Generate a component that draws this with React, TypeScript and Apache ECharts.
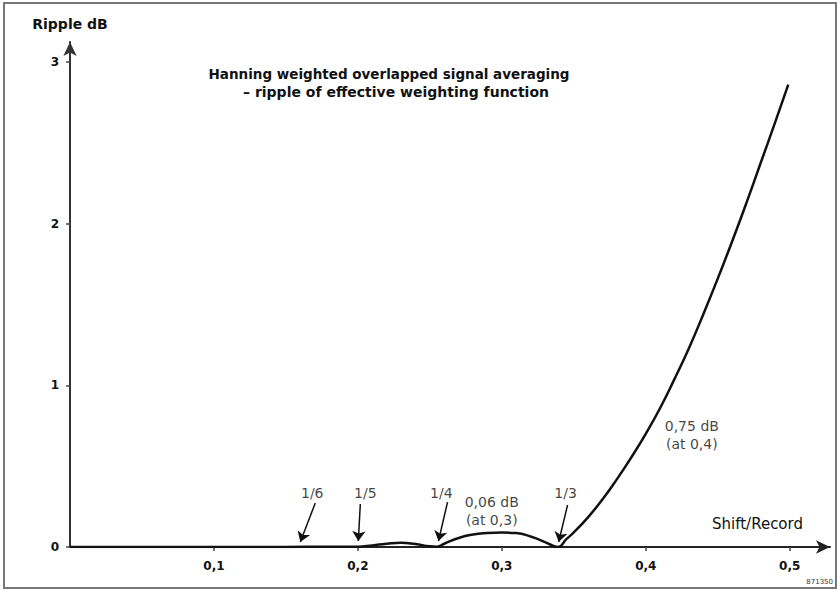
import React, { useEffect, useRef } from "react";
import * as echarts from "echarts";

// Shift / record length (x) and ripple in dB (y)
const shiftRecord = [
  0, 0.05, 0.1, 0.15, 0.18, 0.2, 0.21, 0.22, 0.23, 0.24, 0.25, 0.255, 0.26,
  0.27, 0.28, 0.29, 0.3, 0.31, 0.32, 0.33, 0.335, 0.339, 0.345, 0.35, 0.36,
  0.37, 0.38, 0.39, 0.4, 0.41, 0.42, 0.43, 0.44, 0.45, 0.46, 0.47, 0.48, 0.49,
  0.499,
];
const rippleDb = [
  0, 0, 0, 0, 0.002, 0.002, 0.01, 0.02, 0.026, 0.018, 0.004, 0.002, 0.02,
  0.056, 0.077, 0.086, 0.089, 0.086, 0.065, 0.03, 0.01, 0, 0.05, 0.09, 0.185,
  0.295, 0.42, 0.555, 0.7, 0.86, 1.04, 1.23, 1.44, 1.66, 1.89, 2.13, 2.38,
  2.63, 2.86,
];

const xTickValues = [0.1, 0.2, 0.3, 0.4, 0.5];
const yTickValues = [0, 1, 2, 3];

// Fraction annotations: label, label position, arrow tail, arrow tip (data units)
const fractionLabels = ["1/6", "1/5", "1/4", "1/3"];
const fractionLabelPos = [
  [0.1683, 0.334],
  [0.2052, 0.334],
  [0.258, 0.334],
  [0.3443, 0.334],
];
const fractionArrowTail = [
  [0.1704, 0.272],
  [0.2017, 0.266],
  [0.2623, 0.278],
  [0.3457, 0.26],
];
const fractionArrowTip = [
  [0.16, 0.031],
  [0.2003, 0.037],
  [0.256, 0.037],
  [0.3395, 0.031],
];

const noteLabels = ["0,06 dB\n(at 0,3)", "0,75 dB\n(at 0,4)"];
const notePos = [
  [0.293, 0.22],
  [0.432, 0.69],
];

const titleLines = [
  "Hanning weighted overlapped signal averaging",
  "– ripple of effective weighting function",
];

const FONT = "'DejaVu Sans', Verdana, sans-serif";

export default function App() {
  const ref = useRef<HTMLDivElement>(null);

  useEffect(() => {
    if (!ref.current) return;
    const chart = echarts.init(ref.current, undefined, { renderer: "svg" });

    const lineData = shiftRecord.map((x, i) => [x, rippleDb[i]]);
    const arrows = fractionArrowTail.map((t, i) => [
      { coord: t, symbol: "none" },
      { coord: fractionArrowTip[i], symbol: "arrow" },
    ]);
    const fracLabelData = fractionLabels.map((n, i) => ({
      name: n,
      value: fractionLabelPos[i],
    }));
    const noteData = noteLabels.map((n, i) => ({ name: n, value: notePos[i] }));

    const option: any = {
      animation: false,
      backgroundColor: "#ffffff",
      grid: { left: 70, right: 10, top: 42, bottom: 45, containLabel: false },
      xAxis: {
        type: "value",
        min: 0,
        max: 0.528,
        name: "Shift/Record",
        nameLocation: "end",
        nameGap: -118,
        nameTextStyle: {
          fontFamily: FONT,
          fontSize: 15,
          color: "#111",
          align: "left",
          verticalAlign: "bottom",
          padding: [0, 0, 16, 0],
        },
        axisLine: {
          show: true,
          symbol: ["none", "arrow"],
          symbolSize: [10, 14],
          lineStyle: { color: "#222", width: 2 },
        },
        axisTick: {
          show: true,
          inside: false,
          length: 4,
          customValues: xTickValues,
          lineStyle: { color: "#444", width: 1.5 },
        },
        axisLabel: {
          show: true,
          customValues: xTickValues,
          margin: 13,
          fontFamily: FONT,
          fontSize: 12,
          fontWeight: "bold",
          color: "#111",
          formatter: (v: number) => String(v).replace(".", ","),
        },
        splitLine: { show: false },
      },
      yAxis: {
        type: "value",
        min: 0,
        max: 3.124,
        name: "Ripple dB",
        nameLocation: "end",
        nameGap: 11,
        nameTextStyle: {
          fontFamily: FONT,
          fontSize: 14,
          fontWeight: "bold",
          color: "#111",
        },
        axisLine: {
          show: true,
          symbol: ["none", "arrow"],
          symbolSize: [10, 14],
          lineStyle: { color: "#333", width: 2 },
        },
        axisTick: {
          show: true,
          inside: false,
          length: 4,
          customValues: yTickValues,
          lineStyle: { color: "#444", width: 1.5 },
        },
        axisLabel: {
          show: true,
          customValues: yTickValues,
          margin: 11,
          fontFamily: FONT,
          fontSize: 12,
          fontWeight: "bold",
          color: "#111",
          formatter: (v: number) => String(v),
        },
        splitLine: { show: false },
      },
      series: [
        {
          type: "line",
          data: lineData,
          smooth: 0.5,
          showSymbol: false,
          lineStyle: { color: "#111", width: 2.5 },
          markLine: {
            silent: true,
            symbolSize: 10,
            label: { show: false },
            lineStyle: { color: "#111", width: 1.5, type: "solid" },
            data: arrows,
          },
          z: 3,
        },
        {
          type: "scatter",
          data: fracLabelData,
          symbol: "circle",
          symbolSize: 1,
          itemStyle: { color: "rgba(0,0,0,0)" },
          label: {
            show: true,
            position: "inside",
            formatter: (p: any) => p.name,
            fontFamily: FONT,
            fontSize: 14,
            color: "#111",
          },
          silent: true,
        },
        {
          type: "scatter",
          data: noteData,
          symbol: "circle",
          symbolSize: 1,
          itemStyle: { color: "rgba(0,0,0,0)" },
          label: {
            show: true,
            position: "inside",
            formatter: (p: any) => p.name,
            fontFamily: FONT,
            fontSize: 14,
            lineHeight: 18,
            align: "center",
            color: "#111",
          },
          silent: true,
        },
      ],
      graphic: [
        {
          type: "rect",
          shape: { x: 4, y: 3, width: 832, height: 585 },
          style: { fill: "none", stroke: "#777", lineWidth: 2 },
          silent: true,
        },
        {
          type: "text",
          x: 389,
          y: 74,
          style: {
            text: titleLines[0],
            textAlign: "center",
            textVerticalAlign: "middle",
            font: `bold 13.5px ${FONT}`,
            fill: "#111",
          },
        },
        {
          type: "text",
          x: 396,
          y: 92,
          style: {
            text: titleLines[1],
            textAlign: "center",
            textVerticalAlign: "middle",
            font: `bold 14px ${FONT}`,
            fill: "#111",
          },
        },
        {
          type: "text",
          x: 833,
          y: 582,
          style: {
            text: "871350",
            textAlign: "right",
            textVerticalAlign: "middle",
            font: `7px ${FONT}`,
            fill: "#333",
          },
        },
      ],
    };

    chart.setOption(option);
    return () => chart.dispose();
  }, []);

  return (
    <div
      ref={ref}
      style={{ position: "fixed", left: 0, top: 0, width: 840, height: 592 }}
    />
  );
}
